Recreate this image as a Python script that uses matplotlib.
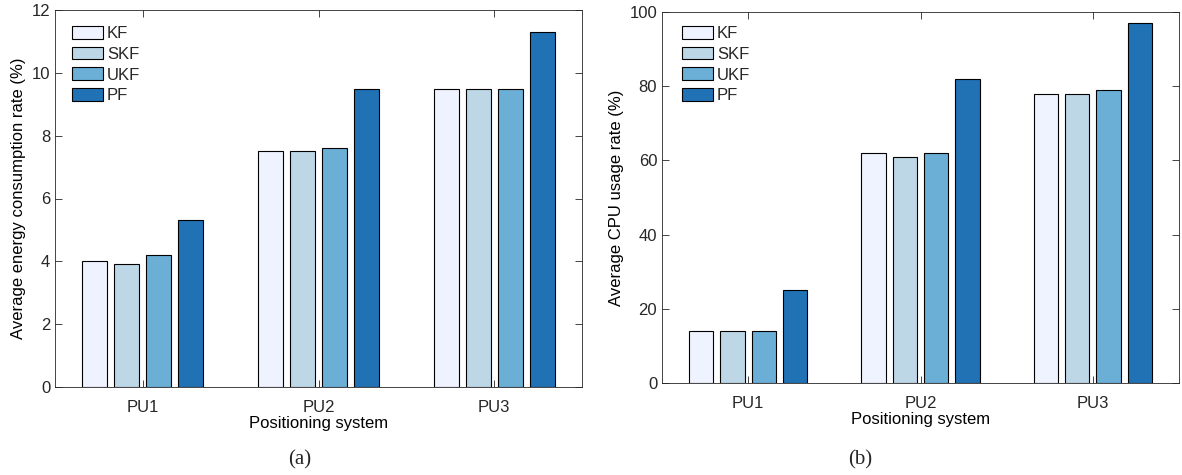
import matplotlib.pyplot as plt
import numpy as np

plt.rcParams['font.family'] = ['Liberation Sans', 'DejaVu Sans']
plt.rcParams['text.color'] = '#262626'
plt.rcParams['axes.edgecolor'] = '#262626'
plt.rcParams['xtick.color'] = '#262626'
plt.rcParams['ytick.color'] = '#262626'

systems = ['PU1', 'PU2', 'PU3']
filters = ['KF', 'SKF', 'UKF', 'PF']
colors = ['#eff3ff', '#bdd7e7', '#6baed6', '#2171b5']

# rows = filters, columns = systems
energy = [[4.0, 7.5, 9.5],
          [3.9, 7.5, 9.5],
          [4.2, 7.6, 9.5],
          [5.3, 9.5, 11.3]]
cpu = [[14, 62, 78],
       [14, 61, 78],
       [14, 62, 79],
       [25, 82, 97]]

fig = plt.figure(figsize=(11.82, 4.75), dpi=100)
ax1 = fig.add_axes([55/1182, 88/475, 527/1182, 377/475])
ax2 = fig.add_axes([662/1182, 92/475, 517/1182, 371/475])

def draw(ax, vals, ylim, yticks, ylabel, leg_off):
	x = np.arange(1, len(systems)+1)
	step = 0.182
	width = 0.142
	for i, f in enumerate(filters):
		ax.bar(x + (i-1.5)*step, vals[i], width, color=colors[i],
			edgecolor='black', linewidth=0.8, label=f)
	ax.set_xlim(0.5, 3.5)
	ax.set_ylim(*ylim)
	ax.set_xticks(x)
	ax.set_xticklabels(systems)
	ax.set_yticks(yticks)
	ax.tick_params(direction='in', top=True, right=True, length=5,
		width=0.6, labelsize=12)
	ax.tick_params(axis='x', pad=9)
	for s in ax.spines.values():
		s.set_linewidth(0.6)
	ax.set_xlabel('Positioning system', fontsize=12, labelpad=1)
	ax.set_ylabel(ylabel, fontsize=12, labelpad=4)
	ax.legend(loc='upper left', bbox_to_anchor=leg_off, frameon=False,
		fontsize=12, handlelength=1.85, handleheight=0.8, labelspacing=0.33,
		handletextpad=0.25, borderaxespad=0, borderpad=0)

draw(ax1, energy, (0, 12), np.arange(0, 13, 2),
	'Average energy consumption rate (%)', (17/527, 1-16/377))
draw(ax2, cpu, (0, 100), np.arange(0, 101, 20),
	'Average CPU usage rate (%)', (20/517, 1-14/371))

fig.text(300/1182, 1-460/475, '(a)', ha='center', va='center',
	fontsize=15, family=['Liberation Serif', 'DejaVu Serif'])
fig.text(860/1182, 1-460/475, '(b)', ha='center', va='center',
	fontsize=15, family=['Liberation Serif', 'DejaVu Serif'])

fig.savefig('out.png', dpi=100)
